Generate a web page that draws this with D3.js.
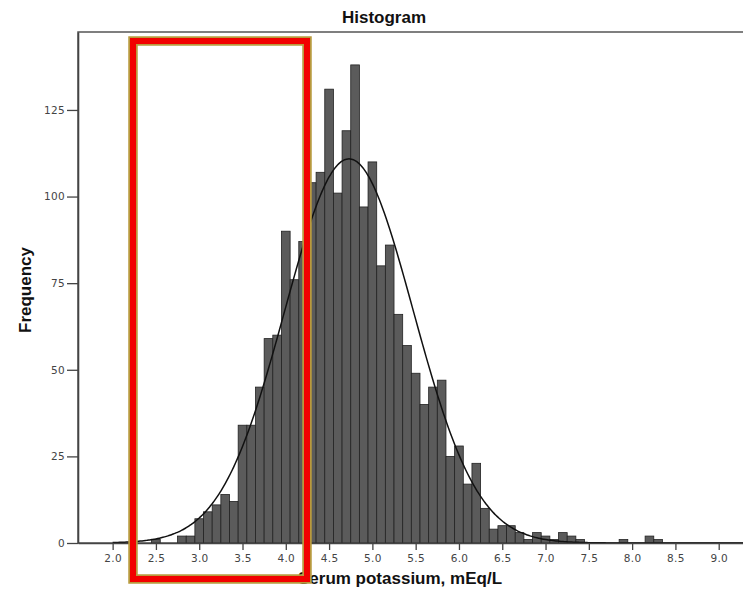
<!DOCTYPE html>
<html>
<head>
<meta charset="utf-8">
<script src="https://cdn.jsdelivr.net/npm/d3@7"></script>
<style>
  body { margin: 0; background: #fff; }
  svg { display: block; }
</style>
</head>
<body>
<svg id="chart" width="743" height="599"></svg>
<script>
// bin centres (mEq/L) and counts
const binCenters = [2.5, 2.8, 2.9, 3.0, 3.1, 3.2, 3.3, 3.4, 3.5, 3.6, 3.7, 3.8, 3.9,
    4.0, 4.1, 4.2, 4.3, 4.4, 4.5, 4.6, 4.7, 4.8, 4.9, 5.0, 5.1, 5.2, 5.3, 5.4, 5.5,
    5.6, 5.7, 5.8, 5.9, 6.0, 6.1, 6.2, 6.3, 6.4, 6.5, 6.6, 6.7, 6.8, 6.9, 7.0, 7.1,
    7.2, 7.3, 7.4, 7.9, 8.2, 8.3]
const counts = [1, 2, 2, 7, 9, 11, 14, 12, 34, 34, 45, 59, 60,
    90, 76, 87, 104, 107, 131, 101, 119, 138, 97, 110, 80, 86, 66, 57, 49,
    40, 45, 47, 25, 28, 17, 23, 10, 4, 5, 5, 3, 1, 3, 2, 1,
    3, 2, 1, 1, 2, 1]
const xTicks = [2.0, 2.5, 3.0, 3.5, 4.0, 4.5, 5.0, 5.5, 6.0, 6.5, 7.0, 7.5, 8.0, 8.5, 9.0]
const yTicks = [0, 25, 50, 75, 100, 125]

// normal curve fitted by SPSS (estimated)
const curveMean = 4.73
const curveSd = 0.74
const binWidth = 0.1
const total = d3.sum(counts)

const data = binCenters.map((c, i) => ({ c: c, n: counts[i] }))

const svg = d3.select("#chart")

const x = d3.scaleLinear().domain([1.6, 9.5]).range([78, 762])
const y = d3.scaleLinear().domain([0, 147.5]).range([543, 32])

// frame
svg.append("rect")
    .attr("x", x.range()[0])
    .attr("y", y.range()[1])
    .attr("width", x.range()[1] - x.range()[0])
    .attr("height", y.range()[0] - y.range()[1])
    .style("fill", "none")
    .style("stroke", "#555")
    .style("stroke-width", 1.5)

// bars
svg.selectAll("rect.bar")
    .data(data)
    .enter()
    .append("rect")
    .attr("class", "bar")
    .attr("x", d => x(d.c - binWidth / 2))
    .attr("y", d => y(d.n))
    .attr("width", d => x(d.c + binWidth / 2) - x(d.c - binWidth / 2))
    .attr("height", d => y(0) - y(d.n))
    .style("fill", "#5b5b5b")
    .style("stroke", "#222")
    .style("stroke-width", 0.8)

// normal curve
const pts = d3.range(2.0, 9.5, 0.02).map(v => [v,
    total * binWidth * Math.exp(-0.5 * Math.pow((v - curveMean) / curveSd, 2)) / (curveSd * Math.sqrt(2 * Math.PI))])

svg.append("path")
    .datum(pts)
    .attr("d", d3.line().x(d => x(d[0])).y(d => y(d[1])).curve(d3.curveBasis))
    .style("fill", "none")
    .style("stroke", "#111")
    .style("stroke-width", 1.5)

// axes
svg.append("g")
    .attr("transform", `translate(0,${y(0)})`)
    .call(d3.axisBottom(x).tickValues(xTicks).tickFormat(d3.format(".1f"))
        .tickSize(7).tickSizeOuter(0).tickPadding(5))
svg.append("g")
    .attr("transform", `translate(${x.range()[0]},0)`)
    .call(d3.axisLeft(y).tickValues(yTicks).tickSize(11).tickSizeOuter(0).tickPadding(2))

svg.selectAll(".domain").style("stroke", "#444").style("stroke-width", 1.6)
svg.selectAll(".tick line").style("stroke", "#444").style("stroke-width", 1.3)
svg.selectAll(".tick text")
    .style("font-family", "DejaVu Sans")
    .style("font-size", "10.5px")
    .style("letter-spacing", "0.3px")
    .style("fill", "#444")

// titles
svg.append("text")
    .attr("x", 384).attr("y", 23)
    .attr("text-anchor", "middle")
    .style("font-family", "Liberation Sans")
    .style("font-weight", "bold")
    .style("font-size", "17px")
    .style("fill", "#111")
    .text("Histogram")

svg.append("text")
    .attr("x", 400).attr("y", 584)
    .attr("text-anchor", "middle")
    .style("font-family", "Liberation Sans")
    .style("font-weight", "bold")
    .style("font-size", "17px")
    .style("fill", "#111")
    .text("Serum potassium, mEq/L")

svg.append("text")
    .attr("transform", "translate(31,290) rotate(-90)")
    .attr("text-anchor", "middle")
    .style("font-family", "Liberation Sans")
    .style("font-weight", "bold")
    .style("font-size", "17px")
    .style("fill", "#111")
    .text("Frequency")

// highlight box
svg.append("rect")
    .attr("x", 133).attr("y", 41).attr("width", 174).attr("height", 538)
    .style("fill", "none")
    .style("stroke", "#b89a3e")
    .style("stroke-width", 9.5)
svg.append("rect")
    .attr("x", 133).attr("y", 41).attr("width", 174).attr("height", 538)
    .style("fill", "none")
    .style("stroke", "#f20000")
    .style("stroke-width", 6)
</script>
</body>
</html>
